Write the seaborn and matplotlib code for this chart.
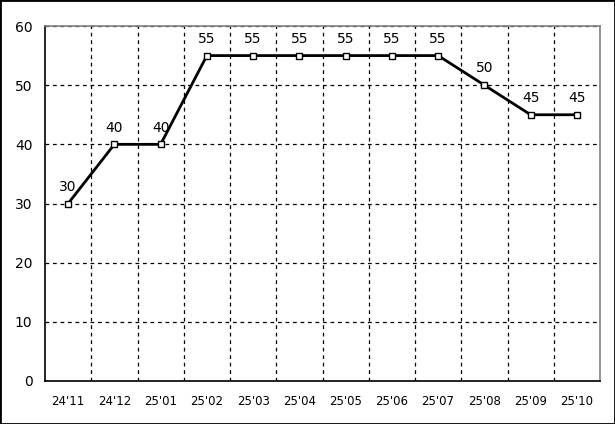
import matplotlib
matplotlib.use("Agg")
import matplotlib.pyplot as plt
import seaborn as sns
import pandas as pd
import numpy as np

months = ["24'11", "24'12", "25'01", "25'02", "25'03", "25'04", "25'05", "25'06", "25'07", "25'08", "25'09", "25'10"]
values = [30, 40, 40, 55, 55, 55, 55, 55, 55, 50, 45, 45]
yticks = [0, 10, 20, 30, 40, 50, 60]

sns.set_style("white")
plt.rcParams['font.family'] = ['DejaVu Sans']
plt.rcParams['text.color'] = 'black'
plt.rcParams['xtick.color'] = 'black'
plt.rcParams['ytick.color'] = 'black'

df = pd.DataFrame({"idx": np.arange(len(months)), "value": values})

fig = plt.figure(figsize=(6.15, 4.24), dpi=100)
ax = fig.add_axes([45/615, 43/424, 555/615, 355/424])
sns.lineplot(data=df, x="idx", y="value", ax=ax, color="black", linewidth=2,
             marker="s", markersize=5, markerfacecolor="white", markeredgecolor="black",
             markeredgewidth=1, zorder=3)

ax.set_xlim(-0.5, len(months) - 0.5)
ax.set_ylim(0, 60)
ax.set_yticks(yticks)
ax.set_yticklabels([str(t) for t in yticks], fontsize=10)
ax.set_xticks(df["idx"])
ax.set_xticklabels(months, fontsize=8.5)
ax.set_xticks(np.arange(0.5, len(months) - 0.5, 1), minor=True)
ax.tick_params(axis='both', which='both', length=0, colors='black')
ax.tick_params(axis='x', pad=10)
ax.tick_params(axis='y', pad=9)
ax.grid(False)
ax.yaxis.grid(True, which='major', color='black', linestyle=(0, (3, 3)), linewidth=0.9)
ax.xaxis.grid(True, which='minor', color='black', linestyle=(0, (3, 3)), linewidth=0.9)
ax.set_xlabel("")
ax.set_ylabel("")

for s in ['left', 'bottom']:
    ax.spines[s].set_color('black')
    ax.spines[s].set_linewidth(1.2)
for s in ['top', 'right']:
    ax.spines[s].set_color('#808080')
    ax.spines[s].set_linewidth(1.2)
    ax.spines[s].set_visible(True)

for i, v in zip(df["idx"], values):
    ax.annotate(str(v), (i, v), xytext=(0, 7), textcoords="offset points",
                ha="center", va="bottom", fontsize=10, color='black')

fig.patches.append(plt.Rectangle((0, 0), 1, 1, transform=fig.transFigure,
                                 fill=False, edgecolor='black', linewidth=2))

fig.savefig("out.png", dpi=100)
